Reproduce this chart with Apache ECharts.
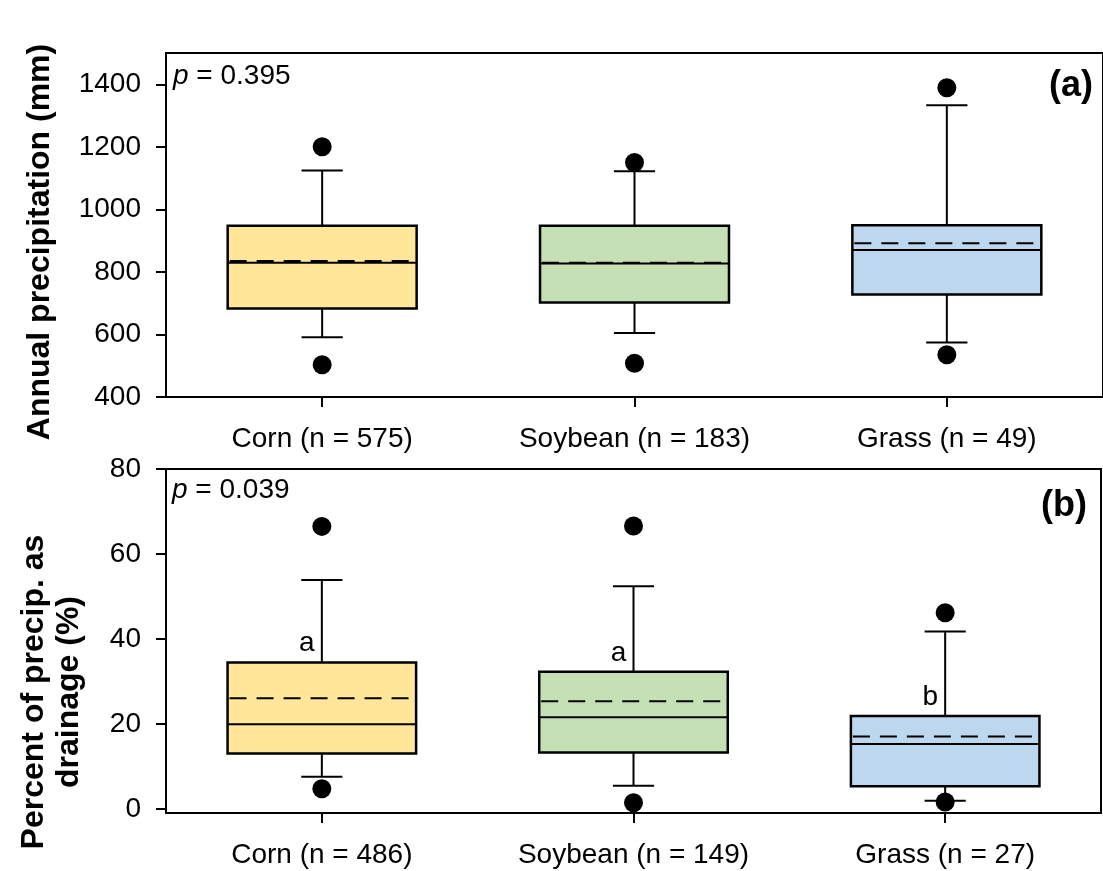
<!DOCTYPE html>
<html>
<head>
<meta charset="utf-8">
<script src="https://cdn.jsdelivr.net/npm/echarts@6/dist/echarts.min.js"></script>
<style>
html,body{margin:0;padding:0;background:#fff;}
#c{width:1103px;height:871px;}
</style>
</head>
<body>
<div id="c"></div>
<script>
// ---------- Data ----------
const categoriesA = ['Corn (n = 575)', 'Soybean (n = 183)', 'Grass (n = 49)'];
const categoriesB = ['Corn (n = 486)', 'Soybean (n = 149)', 'Grass (n = 27)'];

// Panel (a): annual precipitation (mm)
const precipLowWhisker = [591, 605, 574];
const precipQ1 = [683, 702, 728];
const precipMedian = [829, 827, 870];
const precipQ3 = [948, 948, 949];
const precipHighWhisker = [1124, 1122, 1333];
const precipMean = [835, 829, 892];
const precipOutlierLow = [503, 508, 535];
const precipOutlierHigh = [1200, 1150, 1389];
const precipTicks = [400, 600, 800, 1000, 1200, 1400];

// Panel (b): percent of precipitation as drainage (%)
const drainLowWhisker = [7.6, 5.5, 2.0];
const drainQ1 = [13.1, 13.3, 5.4];
const drainMedian = [20.0, 21.6, 15.3];
const drainQ3 = [34.5, 32.3, 21.9];
const drainHighWhisker = [53.9, 52.4, 41.8];
const drainMean = [26.1, 25.4, 17.1];
const drainOutlierLow = [4.8, 1.5, 1.7];
const drainOutlierHigh = [66.5, 66.6, 46.2];
const drainLetters = ['a', 'a', 'b'];
const drainTicks = [0, 20, 40, 60, 80];

// ---------- Styling ----------
const FONT = '"Liberation Sans", Arial, Helvetica, sans-serif';
const boxColors = ['#FFE699', '#C5E0B4', '#BDD7EE'];
const TICK_FS = 28;

function boxData(low, q1, med, q3, high, mean) {
  return low.map((_, i) => [i, low[i], q1[i], med[i], q3[i], high[i], mean[i]]);
}
function outlierData(lo, hi) {
  const out = [];
  lo.forEach((v, i) => out.push([i, v]));
  hi.forEach((v, i) => out.push([i, v]));
  return out;
}

function renderBox(params, api) {
  const x = api.value(0);
  const pLow = api.coord([x, api.value(1)]);
  const pQ1 = api.coord([x, api.value(2)]);
  const pMed = api.coord([x, api.value(3)]);
  const pQ3 = api.coord([x, api.value(4)]);
  const pHigh = api.coord([x, api.value(5)]);
  const pMean = api.coord([x, api.value(6)]);
  const band = api.size([1, 0])[0];
  const bw = band * 0.605;
  const cw = band * 0.132;
  const cx = pMed[0];
  const lineStyle = { stroke: '#000', lineWidth: 2 };
  return {
    type: 'group',
    children: [
      { type: 'line', shape: { x1: cx, y1: pHigh[1], x2: cx, y2: pQ3[1] }, style: lineStyle },
      { type: 'line', shape: { x1: cx, y1: pQ1[1], x2: cx, y2: pLow[1] }, style: lineStyle },
      { type: 'line', shape: { x1: cx - cw / 2, y1: pHigh[1], x2: cx + cw / 2, y2: pHigh[1] }, style: lineStyle },
      { type: 'line', shape: { x1: cx - cw / 2, y1: pLow[1], x2: cx + cw / 2, y2: pLow[1] }, style: lineStyle },
      { type: 'rect', shape: { x: cx - bw / 2, y: pQ3[1], width: bw, height: pQ1[1] - pQ3[1] },
        style: { fill: boxColors[params.dataIndex], stroke: '#000', lineWidth: 2.5 } },
      { type: 'line', shape: { x1: cx - bw / 2, y1: pMed[1], x2: cx + bw / 2, y2: pMed[1] }, style: lineStyle },
      { type: 'line', shape: { x1: cx - bw / 2 + 2, y1: pMean[1], x2: cx + bw / 2 - 2, y2: pMean[1] },
        style: { stroke: '#000', lineWidth: 2, lineDash: [17, 10] } }
    ]
  };
}

const chart = echarts.init(document.getElementById('c'), null, { renderer: 'canvas' });

const xAxisCommon = (gridIndex, data) => ({
  type: 'category',
  gridIndex: gridIndex,
  data: data,
  axisLine: { show: true, onZero: false, lineStyle: { color: '#000', width: 2 } },
  axisTick: { show: true, alignWithLabel: true, inside: false, length: 10, lineStyle: { color: '#000', width: 2 } },
  axisLabel: { color: '#000', fontSize: TICK_FS, fontFamily: FONT, margin: 28 },
  splitLine: { show: false }
});

const yAxisCommon = (gridIndex, min, max, ticks) => ({
  type: 'value',
  gridIndex: gridIndex,
  min: min,
  max: max,
  axisLine: { show: true, onZero: false, lineStyle: { color: '#000', width: 2 } },
  axisTick: { show: true, inside: false, length: 10, customValues: ticks, lineStyle: { color: '#000', width: 2 } },
  axisLabel: { color: '#000', fontSize: TICK_FS, fontFamily: FONT, margin: 25, customValues: ticks,
    formatter: (v) => String(v) },
  splitLine: { show: false }
});

const option = {
  backgroundColor: '#fff',
  animation: false,
  grid: [
    { left: 166, top: 53, width: 938, height: 344, show: true, borderColor: '#000', borderWidth: 2, backgroundColor: 'transparent' },
    { left: 166, top: 469, width: 935, height: 344, show: true, borderColor: '#000', borderWidth: 2, backgroundColor: 'transparent' }
  ],
  xAxis: [xAxisCommon(0, categoriesA), xAxisCommon(1, categoriesB)],
  yAxis: [yAxisCommon(0, 400, 1500, precipTicks), yAxisCommon(1, -0.9, 80, drainTicks)],
  series: [
    {
      type: 'custom', xAxisIndex: 0, yAxisIndex: 0,
      renderItem: renderBox,
      encode: { x: 0, y: [1, 2, 3, 4, 5, 6] },
      data: boxData(precipLowWhisker, precipQ1, precipMedian, precipQ3, precipHighWhisker, precipMean),
      z: 2
    },
    {
      type: 'scatter', xAxisIndex: 0, yAxisIndex: 0,
      symbol: 'circle', symbolSize: 19,
      itemStyle: { color: '#000', opacity: 1 },
      data: outlierData(precipOutlierLow, precipOutlierHigh),
      z: 3
    },
    {
      type: 'custom', xAxisIndex: 1, yAxisIndex: 1,
      renderItem: renderBox,
      encode: { x: 0, y: [1, 2, 3, 4, 5, 6] },
      data: boxData(drainLowWhisker, drainQ1, drainMedian, drainQ3, drainHighWhisker, drainMean),
      z: 2
    },
    {
      type: 'scatter', xAxisIndex: 1, yAxisIndex: 1,
      symbol: 'circle', symbolSize: 19,
      itemStyle: { color: '#000', opacity: 1 },
      data: outlierData(drainOutlierLow, drainOutlierHigh),
      z: 3
    },
    {
      type: 'scatter', xAxisIndex: 1, yAxisIndex: 1,
      symbolSize: 1,
      itemStyle: { color: 'rgba(255,255,255,0)', opacity: 1 },
      label: {
        show: true, position: 'inside', offset: [-15, -19],
        color: '#000', opacity: 1, fontSize: TICK_FS, fontFamily: FONT,
        formatter: (p) => drainLetters[p.dataIndex]
      },
      data: drainQ3.map((v, i) => [i, v]),
      z: 4
    }
  ],
  graphic: [
    { type: 'text', x: 173, y: 76,
      style: { text: '{i|p} = 0.395', textVerticalAlign: 'middle', verticalAlign: 'middle',
        font: TICK_FS + 'px ' + FONT, fill: '#000',
        rich: { i: { fontStyle: 'italic', fontSize: TICK_FS, fontFamily: FONT } } } },
    { type: 'text', x: 172, y: 490,
      style: { text: '{i|p} = 0.039', textVerticalAlign: 'middle', verticalAlign: 'middle',
        font: TICK_FS + 'px ' + FONT, fill: '#000',
        rich: { i: { fontStyle: 'italic', fontSize: TICK_FS, fontFamily: FONT } } } },
    { type: 'text', x: 1093, y: 86,
      style: { text: '(a)', textAlign: 'right', align: 'right', textVerticalAlign: 'middle', verticalAlign: 'middle',
        font: 'bold 36px ' + FONT, fill: '#000' } },
    { type: 'text', x: 1087, y: 506,
      style: { text: '(b)', textAlign: 'right', align: 'right', textVerticalAlign: 'middle', verticalAlign: 'middle',
        font: 'bold 36px ' + FONT, fill: '#000' } },
    { type: 'text', x: 40, y: 242, rotation: Math.PI / 2,
      style: { text: 'Annual precipitation (mm)', textAlign: 'center', align: 'center',
        textVerticalAlign: 'middle', verticalAlign: 'middle',
        font: 'bold 32px ' + FONT, fill: '#000' } },
    { type: 'text', x: 52, y: 692, rotation: Math.PI / 2,
      style: { text: 'Percent of precip. as\ndrainage (%)', textAlign: 'center', align: 'center',
        textVerticalAlign: 'middle', verticalAlign: 'middle', lineHeight: 35,
        font: 'bold 32px ' + FONT, fill: '#000' } }
  ]
};
chart.setOption(option);
</script>
</body>
</html>
